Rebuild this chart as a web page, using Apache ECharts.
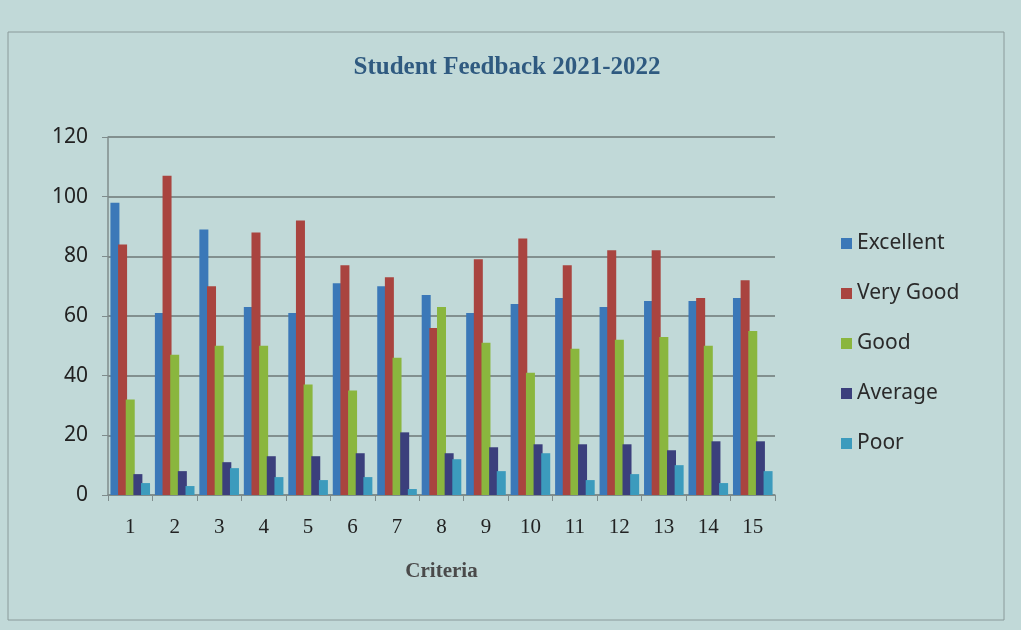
<!DOCTYPE html>
<html>
<head>
<meta charset="utf-8">
<script src="https://cdn.jsdelivr.net/npm/echarts@6/dist/echarts.min.js"></script>
<style>
  html, body { margin: 0; padding: 0; background: #c1d9d8; }
  #chart { width: 1021px; height: 630px; }
</style>
</head>
<body>
<div id="chart"></div>
<script>
const criteria = ["1", "2", "3", "4", "5", "6", "7", "8", "9", "10", "11", "12", "13", "14", "15"];
const excellent = [98, 61, 89, 63, 61, 71, 70, 67, 61, 64, 66, 63, 65, 65, 66];
const veryGood = [84, 107, 70, 88, 92, 77, 73, 56, 79, 86, 77, 82, 82, 66, 72];
const good = [32, 47, 50, 50, 37, 35, 46, 63, 51, 41, 49, 52, 53, 50, 55];
const average = [7, 8, 11, 13, 13, 14, 21, 14, 16, 17, 17, 17, 15, 18, 18];
const poor = [4, 3, 9, 6, 5, 6, 2, 12, 8, 14, 5, 7, 10, 4, 8];

let myChart = echarts.init(document.getElementById("chart"));

function bar(name, values, color) {
  return {
    name: name,
    type: "bar",
    data: values,
    barWidth: 9,
    barGap: "-15%",
    itemStyle: { color: color },
  };
}

myChart.setOption({
  backgroundColor: "#c1d9d8",
  animation: false,
  title: {
    text: "Student Feedback 2021-2022",
    left: 502,
    top: 50,
    textAlign: "center",
    textStyle: {
      fontFamily: "Liberation Serif",
      fontWeight: "bold",
      fontSize: 25,
      color: "#2f5a80",
    },
  },
  graphic: [
    {
      type: "rect",
      shape: { x: 8, y: 32, width: 996, height: 588 },
      style: { fill: "none", stroke: "#8a9a9a", lineWidth: 1 },
      silent: true,
    },
  ],
  legend: {
    orient: "vertical",
    left: 836,
    top: 228,
    itemWidth: 11,
    itemHeight: 11,
    itemGap: 29,
    icon: "rect",
    textStyle: {
      fontFamily: "Noto Sans",
      fontSize: 21,
      color: "#2a2a2a",
    },
  },
  grid: {
    left: 108,
    right: 246,
    top: 137,
    bottom: 135,
  },
  xAxis: {
    type: "category",
    data: criteria,
    name: "Criteria",
    nameLocation: "middle",
    nameGap: 66,
    nameTextStyle: {
      fontFamily: "Liberation Serif",
      fontWeight: "bold",
      fontSize: 21,
      color: "#4a4a4a",
    },
    axisLine: { lineStyle: { color: "#7f8c8c", width: 1.5 } },
    axisTick: { show: true, alignWithLabel: false, length: 6, lineStyle: { color: "#7f8c8c" } },
    axisLabel: {
      margin: 22,
      fontFamily: "Liberation Serif",
      fontSize: 21,
      color: "#222",
    },
  },
  yAxis: {
    type: "value",
    min: 0,
    max: 120,
    interval: 20,
    axisLine: { show: true, lineStyle: { color: "#7f8c8c", width: 1.5 } },
    axisTick: { show: true, length: 6, lineStyle: { color: "#7f8c8c" } },
    axisLabel: {
      margin: 20,
      fontFamily: "Noto Sans",
      fontSize: 21,
      color: "#222",
    },
    splitLine: { lineStyle: { color: "#6d7777", width: 1.5 } },
  },
  series: [
    bar("Excellent", excellent, "#3b78b8"),
    bar("Very Good", veryGood, "#a9443f"),
    bar("Good", good, "#8ab63e"),
    bar("Average", average, "#3b3f7c"),
    bar("Poor", poor, "#3c9bbd"),
  ],
});

window.addEventListener("resize", function () {
  myChart.resize();
});
</script>
</body>
</html>
